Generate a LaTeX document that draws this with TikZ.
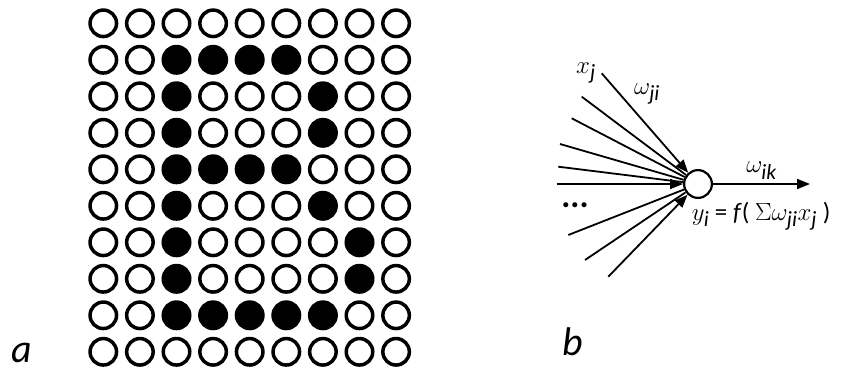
\documentclass[tikz,border=0pt]{standalone}
\usepackage{amsmath}
\usepackage{fontspec}
\setmainfont{Carlito}
\usetikzlibrary{arrows.meta, positioning}

\newcommand\mv[1]{{\fontsize{31}{31}\selectfont$#1$}}

\tikzset{
  pix0/.style={circle, draw, line width=3.5pt, inner sep=0pt, minimum size=26.5pt},
  pix1/.style={pix0, fill=black},
  tag/.style={anchor=base, font=\fontsize{40}{44}\selectfont\itshape},
  neuron/.style={circle, draw, line width=2.2pt, inner sep=0pt, minimum size=27.8pt},
  lbl/.style={inner sep=0pt, font=\fontsize{25}{30}\selectfont}
}

\begin{document}
\begin{tikzpicture}[x=1pt, y=-1pt, line width=1.8pt, >={Triangle[length=13pt,width=10pt]}]
        \useasboundingbox (0,0) rectangle (841,372);

        % letter on the grid (bit c of each row mask = filled)
        \foreach \m [count=\row from 0] in {0,60,68,68,60,68,132,132,124,0}
          \foreach \col in {0,...,8} {
            \pgfmathtruncatemacro\on{mod(floor(\m/2^\col),2)}
            \node[pix\on] (p\row-\col) at (103.3+36.6*\col, 23.3+36.5*\row) {};
          }
        \node[tag] (a) at (22,362) {a};

        % neuron
        \node[neuron] (n) at (698,184) {};
        \coordinate (out) at (810,184);
        \foreach \px/\py [count=\k] in {601.7/73.3, 581.7/96.7, 571.7/118.3, 560/144, 558.3/166.7,
                                        556.7/184, 568.3/235, 585/260, 608.3/276.7}
          \coordinate (in\k) at (\px,\py);

        \foreach \k in {2,3,4,5,7,8}
          \draw (in\k) -- (n);
        \foreach \k in {1,6,9}
          \draw[->] (in\k) -- (n);

        \path[->]
        (n) edge node[lbl, above=4pt] {\mv{\omega_{\textit{ik}}}} (out);

        \node[lbl] (xj) at (586,73) {\mv{x_{\textit{j}}}};
        \node[lbl] (wji) at (647,94) {\mv{\omega_{\textit{ji}}}};
        \node[lbl, font=\fontsize{34}{34}\selectfont\bfseries] (dots) at (575,205) {...};
        \node[lbl, anchor=base west] (y) at (691,220)
          {\mv{y_{\textit{i}}} = \textit{f}( \mv{\Sigma\omega_{\textit{ji}}x_{\textit{j}}} )};
        \node[tag] (b) at (572.5,355) {b};
\end{tikzpicture}
\end{document}
